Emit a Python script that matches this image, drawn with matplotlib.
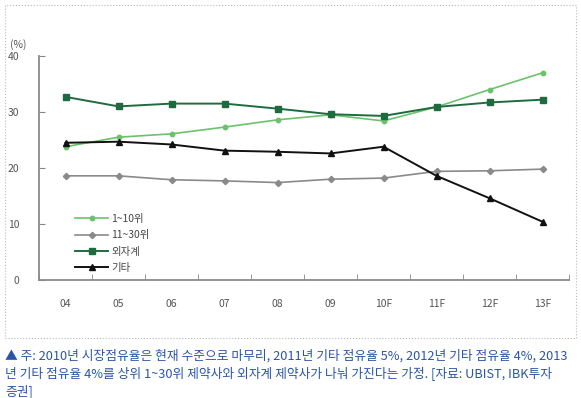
import matplotlib.pyplot as plt
from matplotlib.patches import Rectangle

plt.rcParams['font.family'] = ['Noto Sans CJK KR', 'DejaVu Sans']

# Data
years = ["04", "05", "06", "07", "08", "09", "10F", "11F", "12F", "13F"]
top_1_10 = [23.8, 25.5, 26.1, 27.3, 28.6, 29.5, 28.4, 30.9, 34.0, 37.0]
top_11_30 = [18.6, 18.6, 17.9, 17.7, 17.4, 18.0, 18.2, 19.4, 19.5, 19.8]
foreign = [32.7, 31.0, 31.5, 31.5, 30.6, 29.6, 29.3, 30.9, 31.7, 32.2]
others = [24.5, 24.7, 24.2, 23.1, 22.9, 22.6, 23.8, 18.6, 14.6, 10.4]

caption = ["▲ 주: 2010년 시장점유율은 현재 수준으로 마무리, 2011년 기타 점유율 5%, 2012년 기타 점유율 4%, 2013",
           "년 기타 점유율 4%를 상위 1~30위 제약사와 외자계 제약사가 나눠 가진다는 가정. [자료: UBIST, IBK투자",
           "증권]"]

fig = plt.figure(figsize=(5.81, 3.98), dpi=100)
ax = fig.add_axes([39/581, 118/398, 530/581, 224/398])

x = range(len(years))
ax.plot(x, top_1_10, color="#6cc26c", lw=1.2, marker="o", ms=3.2, label="1~10위")
ax.plot(x, top_11_30, color="#8a8a8a", lw=1.2, marker="D", ms=3.2, label="11~30위")
ax.plot(x, foreign, color="#1f6b40", lw=1.4, marker="s", ms=4.2, label="외자계")
ax.plot(x, others, color="#111111", lw=1.4, marker="^", ms=5, label="기타")

ax.set_xlim(-0.5, len(years) - 0.5)
ax.set_ylim(0, 40)
ax.set_yticks([0, 10, 20, 30, 40])
ax.set_xticks(x)
ax.set_xticklabels(years)
ax.set_xticks([i + 0.5 for i in range(-1, len(years))], minor=True)
ax.tick_params(axis="x", which="major", length=0, pad=14, labelsize=7.5, labelcolor="#555555")
ax.tick_params(axis="x", which="minor", direction="in", length=4, color="#888888")
ax.tick_params(axis="y", direction="in", length=4, color="#888888", pad=14,
               labelsize=7.5, labelcolor="#555555")
for s in ["top", "right"]:
    ax.spines[s].set_visible(False)
for s in ["left", "bottom"]:
    ax.spines[s].set_color("#8a8a8a")
    ax.spines[s].set_linewidth(1.3)

ax.text(-0.04, 1.035, "(%)", transform=ax.transAxes, fontsize=7.5, color="#555555", ha="center")

ax.legend(loc="lower left", bbox_to_anchor=(0.05, -0.01), frameon=False, fontsize=7.5,
          handlelength=3.2, handletextpad=0.3, labelspacing=0.6, labelcolor="#444444")

# dotted border box
fig.patches.append(Rectangle((5/581, 60/398), 571/581, 333/398, transform=fig.transFigure,
                             fill=False, ec="#bbbbbb", lw=0.8, ls=":"))

for i, line in enumerate(caption):
    fig.text(5/581, 1 - (356 + i * 17.5) / 398, line, fontsize=9.2, color="#2a55a8", va="center")

fig.savefig("out.png", dpi=100, facecolor="white")
